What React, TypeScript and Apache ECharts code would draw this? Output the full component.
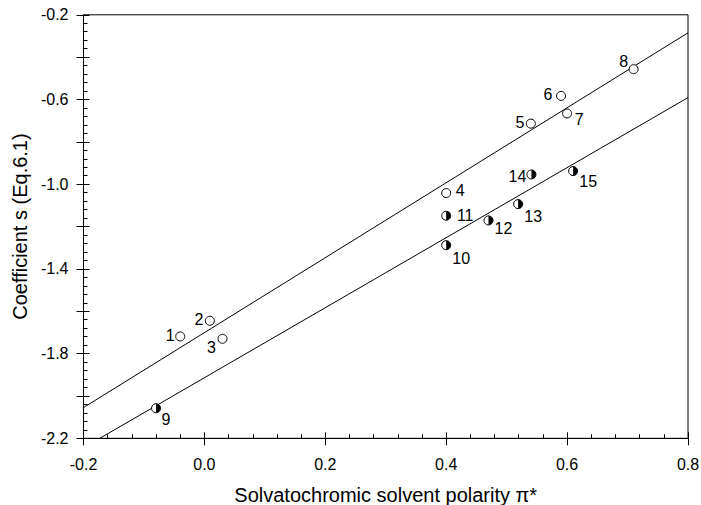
import React, { useEffect, useRef } from "react";
import * as echarts from "echarts";

// Open circles (solvents 1-8)
const openIds = ["1", "2", "3", "4", "5", "6", "7", "8"];
const openX = [-0.04, 0.009, 0.03, 0.4, 0.54, 0.59, 0.6, 0.71];
const openY = [-1.719, -1.645, -1.73, -1.042, -0.714, -0.583, -0.666, -0.457];

// Half-filled circles (solvents 9-15)
const halfIds = ["9", "10", "11", "12", "13", "14", "15"];
const halfX = [-0.08, 0.4, 0.4, 0.47, 0.519, 0.541, 0.61];
const halfY = [-2.058, -1.288, -1.149, -1.171, -1.094, -0.954, -0.938];

// Regression lines (end points)
const upperLineX = [-0.2, 0.8];
const upperLineY = [-2.055, -0.285];
const lowerLineX = [-0.173, 0.8];
const lowerLineY = [-2.2, -0.591];

const xTickLabels = ["-0.2", "0.0", "0.2", "0.4", "0.6", "0.8"];
const yTickLabels = ["-0.2", "-0.6", "-1.0", "-1.4", "-1.8", "-2.2"];

// label offsets (px) relative to each marker
const labelOffsets: Record<string, [number, number]> = {
  "1": [-10, -1],
  "2": [-11, -1],
  "3": [-11, 9],
  "4": [14, -3],
  "5": [-11, -1],
  "6": [-13, -1],
  "7": [12, 6],
  "8": [-10, -8],
  "9": [10, 11],
  "10": [15, 13],
  "11": [19, 0],
  "12": [15, 8],
  "13": [15, 12],
  "14": [-14, 2],
  "15": [15, 10],
};

const FONT = "'Liberation Sans', Arial, Helvetica, sans-serif";

export default function App() {
  const ref = useRef<HTMLDivElement>(null);
  useEffect(() => {
    if (!ref.current) return;
    const chart = echarts.init(ref.current, null, { renderer: "svg" });

    const mk = (ids: string[], xs: number[], ys: number[]) =>
      ids.map((id, i) => ({
        value: [xs[i], ys[i]],
        name: id,
        label: { offset: labelOffsets[id] },
      }));

    const labelStyle = {
      show: true,
      position: "inside" as const,
      formatter: (p: any) => p.name,
      color: "#000",
      fontSize: 16,
      fontFamily: FONT,
    };

    const commonX = {
      type: "value" as const,
      min: -0.2,
      max: 0.8,
      interval: 0.2,
      position: "bottom" as const,
      splitLine: { show: false },
    };
    const commonY = {
      type: "value" as const,
      min: -2.2,
      max: -0.2,
      interval: 0.2,
      position: "left" as const,
      splitLine: { show: false },
    };

    chart.setOption({
      animation: false,
      backgroundColor: "#fff",
      grid: {
        left: 83.5,
        right: 13,
        top: 14.8,
        bottom: 66.7,
        outerBoundsMode: "none",
        containLabel: false,
        show: true,
        borderColor: "#000",
        borderWidth: 1,
        backgroundColor: "transparent",
      },
      xAxis: [
        {
          ...commonX,
          name: "Solvatochromic solvent polarity \u03c0*",
          nameLocation: "middle",
          nameGap: 47,
          nameTextStyle: { color: "#000", fontSize: 20, fontFamily: FONT },
          axisLine: { show: true, onZero: false, lineStyle: { color: "#000", width: 1 } },
          axisTick: { show: true, inside: true, length: 6, lineStyle: { color: "#000" } },
          minorTick: { show: true, splitNumber: 5, length: 4, lineStyle: { color: "#000" } },
          axisLabel: {
            color: "#000",
            fontSize: 16,
            fontFamily: FONT,
            margin: 18,
            formatter: (v: number) => {
              const s = v.toFixed(1) === "-0.0" ? "0.0" : v.toFixed(1);
              return xTickLabels.includes(s) ? s : "";
            },
          },
        },
        {
          ...commonX,
          axisLine: { show: false, onZero: false },
          axisTick: { show: true, inside: false, length: 7, lineStyle: { color: "#000" } },
          axisLabel: { show: false },
        },
      ],
      yAxis: [
        {
          ...commonY,
          name: "Coefficient s (Eq.6.1)",
          nameLocation: "middle",
          nameGap: 51,
          nameTextStyle: { color: "#000", fontSize: 20, fontFamily: FONT },
          axisLine: { show: true, onZero: false, lineStyle: { color: "#000", width: 1 } },
          axisTick: { show: true, inside: true, length: 6, lineStyle: { color: "#000" } },
          minorTick: { show: true, splitNumber: 5, length: 4, lineStyle: { color: "#000" } },
          axisLabel: {
            color: "#000",
            fontSize: 16,
            fontFamily: FONT,
            margin: 15,
            formatter: (v: number) => {
              const s = v.toFixed(1);
              return yTickLabels.includes(s) ? s : "";
            },
          },
        },
        {
          ...commonY,
          axisLine: { show: false, onZero: false },
          axisTick: { show: true, inside: false, length: 7, lineStyle: { color: "#000" } },
          axisLabel: { show: false },
        },
      ],
      series: [
        {
          type: "line",
          data: upperLineX.map((x, i) => [x, upperLineY[i]]),
          showSymbol: false,
          symbol: "none",
          lineStyle: { color: "#000", width: 1 },
          silent: true,
        },
        {
          type: "line",
          data: lowerLineX.map((x, i) => [x, lowerLineY[i]]),
          showSymbol: false,
          symbol: "none",
          lineStyle: { color: "#000", width: 1 },
          silent: true,
        },
        {
          type: "scatter",
          data: mk(openIds, openX, openY),
          symbol: "circle",
          symbolSize: 9,
          itemStyle: { color: "#fff", borderColor: "#000", borderWidth: 1, opacity: 1 },
          label: labelStyle,
          z: 5,
        },
        {
          type: "scatter",
          data: mk(halfIds, halfX, halfY),
          symbol: "circle",
          symbolSize: 9,
          itemStyle: { color: "#fff", borderColor: "#000", borderWidth: 1, opacity: 1 },
          label: labelStyle,
          z: 5,
        },
        {
          type: "scatter",
          data: halfX.map((x, i) => [x, halfY[i]]),
          symbol: "path://M0,-1 A1,1 0 0 1 0,1 Z",
          symbolSize: [4.5, 9],
          symbolOffset: [2.25, 0],
          symbolKeepAspect: false,
          itemStyle: { color: "#000", borderWidth: 0, opacity: 1 },
          z: 6,
          silent: true,
        },
      ],
    });
    return () => chart.dispose();
  }, []);
  return (
    <div
      ref={ref}
      style={{ position: "fixed", left: 0, top: 0, width: 701, height: 505 }}
    />
  );
}
